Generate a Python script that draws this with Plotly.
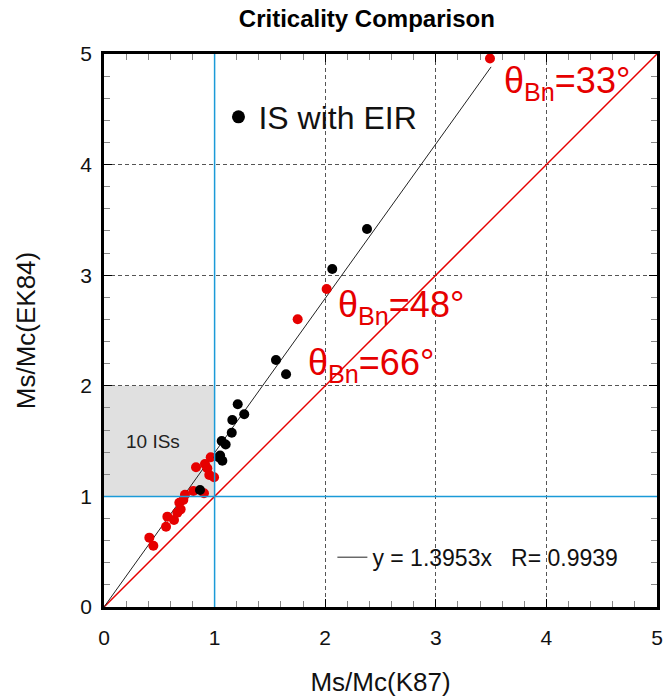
import plotly.graph_objects as go

# --- data ---
red_x = [0.965, 0.913, 0.832, 0.934, 0.952, 0.995, 0.808, 0.904, 0.732, 0.717,
         0.681, 0.693, 0.663, 0.573, 0.633, 0.561, 0.410, 0.446, 1.751, 2.013, 3.49]
red_y = [1.354, 1.293, 1.263, 1.254, 1.193, 1.173, 1.049, 1.028, 1.015, 0.967,
         0.943, 0.883, 0.853, 0.817, 0.787, 0.726, 0.627, 0.554, 2.601, 2.875, 4.96]

black_x = [2.378, 2.064, 1.555, 1.646, 1.209, 1.268, 1.160, 1.155, 1.064, 1.100,
           1.037, 1.070, 1.050, 0.868]
black_y = [3.418, 3.056, 2.233, 2.104, 1.833, 1.742, 1.691, 1.576, 1.501, 1.470,
           1.354, 1.323, 1.370, 1.058]

fit_slope = 1.3953
fit_r = 0.9939
fit_x = [0, 3.5]
fit_y = [fit_slope * v for v in fit_x]

diag_x = [0, 5]
diag_y = [0, 5]

RED = "#e60000"
BLUE = "#1b9ad8"
FONT = "Liberation Sans, Arial, sans-serif"
NB = "\u00a0"

fig = go.Figure()

fig.add_trace(go.Scatter(x=diag_x, y=diag_y, mode="lines",
                         line=dict(color=RED, width=1.5), showlegend=False, hoverinfo="skip"))
fig.add_trace(go.Scatter(x=fit_x, y=fit_y, mode="lines",
                         line=dict(color="#222222", width=1),
                         name=f"y = {fit_slope}x{NB*3}R={NB}{fit_r}", legend="legend2"))
fig.add_trace(go.Scatter(x=red_x, y=red_y, mode="markers",
                         marker=dict(color=RED, size=10), showlegend=False))
fig.add_trace(go.Scatter(x=black_x, y=black_y, mode="markers",
                         marker=dict(color="black", size=10), showlegend=False))
# legend key for the black points (same series, larger legend symbol)
fig.add_trace(go.Scatter(x=[None], y=[None], mode="markers",
                         marker=dict(color="black", size=13), name="IS with EIR", legend="legend"))

# gray box and blue reference lines
fig.add_shape(type="rect", x0=0, x1=1, y0=1, y1=2, fillcolor="#e0e0e0",
              line=dict(width=0), layer="below")
fig.add_shape(type="line", x0=1, x1=1, y0=0, y1=5, line=dict(color=BLUE, width=1.5), layer="above")
fig.add_shape(type="line", x0=0, x1=5, y0=1, y1=1, line=dict(color=BLUE, width=1.5), layer="above")

fig.add_annotation(x=0.44, y=1.50, text="10 ISs", showarrow=False,
                   font=dict(size=19, color="#222", family=FONT))
fig.add_annotation(x=3.60, y=4.74, xanchor="left", yanchor="middle", showarrow=False,
                   text="θ<sub>Bn</sub>=33°", font=dict(size=36, color=RED, family=FONT))
fig.add_annotation(x=2.10, y=2.71, xanchor="left", yanchor="middle", showarrow=False,
                   text="θ<sub>Bn</sub>=48°", font=dict(size=36, color=RED, family=FONT))
fig.add_annotation(x=1.825, y=2.185, xanchor="left", yanchor="middle", showarrow=False,
                   text="θ<sub>Bn</sub>=66°", font=dict(size=36, color=RED, family=FONT))

axis_common = dict(
    range=[0, 5], dtick=1, tick0=0, automargin=False,
    showline=True, linecolor="black", linewidth=2.5, mirror="allticks",
    ticks="inside", ticklen=8, tickcolor="black", tickwidth=1,
    minor=dict(dtick=0.2, ticks="inside", ticklen=6, tickcolor="#888888", tickwidth=1, showgrid=False),
    showgrid=True, gridcolor="#555555", griddash="4px,3px", gridwidth=1,
    zeroline=False,
    tickfont=dict(size=21, color="#111", family=FONT),
)

fig.update_layout(
    width=667, height=697,
    margin=dict(l=104, r=10, t=54, b=90),
    plot_bgcolor="white", paper_bgcolor="white",
    title=dict(text="<b>Criticality Comparison</b>", x=0.55, xanchor="center",
               y=0.974, yanchor="middle", font=dict(size=24, color="black", family=FONT)),
    xaxis=dict(**axis_common, ticklabelstandoff=10,
               title=dict(text="Ms/Mc(K87)", font=dict(size=26, color="#111", family=FONT), standoff=26)),
    yaxis=dict(**axis_common, ticklabelstandoff=5,
               title=dict(text="Ms/Mc(EK84)", font=dict(size=26, color="#111", family=FONT), standoff=38)),
    legend=dict(x=0.207, y=0.886, xanchor="left", yanchor="middle", bgcolor="rgba(0,0,0,0)",
                font=dict(size=32, color="#111", family=FONT), itemsizing="trace"),
    legend2=dict(x=0.413, y=0.09, xanchor="left", yanchor="middle", bgcolor="rgba(0,0,0,0)",
                 font=dict(size=23, color="#111", family=FONT)),
    font=dict(family=FONT),
)

fig.write_html("out.html")
